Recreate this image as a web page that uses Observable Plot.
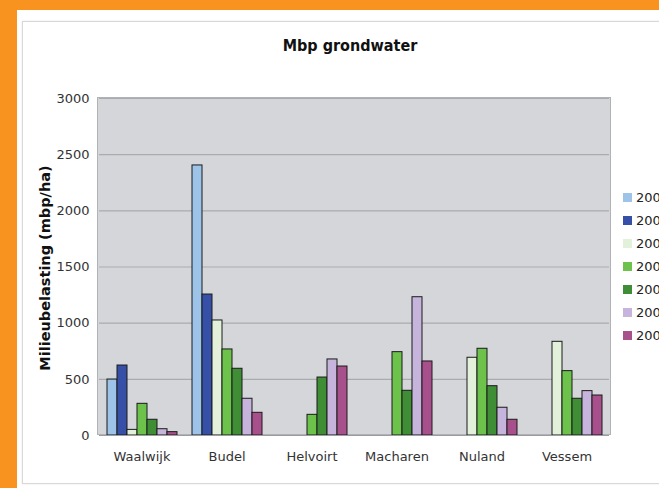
<!DOCTYPE html>
<html>
<head>
<meta charset="utf-8">
<script src="https://cdn.jsdelivr.net/npm/d3@7"></script>
<script src="https://cdn.jsdelivr.net/npm/@observablehq/plot@0.6"></script>
<style>
  html, body { margin: 0; padding: 0; }
  body { width: 659px; height: 488px; background: #F7931E; position: relative; overflow: hidden; font-family: "DejaVu Sans", sans-serif; }
  #panel { position: absolute; left: 17px; top: 10px; width: 700px; height: 490px; background: #fff; }
  #inner { position: absolute; left: 5px; top: 11px; width: 700px; height: 461px; border: 1px solid #d8d8d8; box-shadow: 0 0 2px #e6e6e6; }
  #plotbg { position: absolute; background: #D4D6D9; border: 1px solid #B0B2B5; box-sizing: border-box; }
  #chart { position: absolute; left: 0; top: 0; }
  #title { position: absolute; left: 0; width: 700px; top: 36px; text-align: center; font-family: "DejaVu Sans Condensed", "DejaVu Sans", sans-serif; font-weight: bold; font-size: 16px; color: #111; }
  #ylabel { position: absolute; left: 45px; top: 268px; transform: translate(-50%, -50%) rotate(-90deg); white-space: nowrap; font-weight: bold; font-size: 14.5px; color: #111; }
  #legend { position: absolute; left: 623px; top: 186px; }
  .item { height: 23px; display: flex; align-items: center; white-space: nowrap; font-size: 13px; color: #222; }
  .sw { width: 9px; height: 9px; margin-right: 4px; }
</style>
</head>
<body>
<div id="panel"><div id="inner"></div></div>
<div id="plotbg"></div>
<div id="chart"></div>
<div id="title">Mbp grondwater</div>
<div id="ylabel">Milieubelasting (mbp/ha)</div>
<div id="legend"></div>
<script>
const sites = ["Waalwijk", "Budel", "Helvoirt", "Macharen", "Nuland", "Vessem"];
const years = ["2000", "2001", "2002", "2003", "2004", "2005", "2006"];
const waalwijk = [498, 623, 50, 282, 140, 56, 30];
const budel = [2404, 1255, 1024, 766, 594, 327, 202];
const helvoirt = [null, null, null, 184, 516, 677, 614];
const macharen = [null, null, null, 742, 398, 1231, 659];
const nuland = [null, null, 692, 772, 439, 247, 140];
const vessem = [null, null, 834, 573, 327, 395, 356];
const yTicks = [0, 500, 1000, 1500, 2000, 2500, 3000];
const colors = ["#9DC3E8", "#3550A6", "#E3F1DA", "#6DC24C", "#3F8E36", "#C7B4DC", "#A8508C"];

const series = [waalwijk, budel, helvoirt, macharen, nuland, vessem];
const data = [];
sites.forEach((s, i) => years.forEach((yr, j) => {
  if (series[i][j] != null) data.push({site: s, year: yr, value: series[i][j]});
}));

const W = 659, H = 488, mL = 98, mR = 49, mT = 98, mB = 53;
const bg = document.getElementById("plotbg");
bg.style.left = (mL - 1) + "px";
bg.style.top = (mT - 1) + "px";
bg.style.width = (W - mL - mR + 2) + "px";
bg.style.height = (H - mT - mB + 1) + "px";

const chart = Plot.plot({
  width: W,
  height: H,
  marginLeft: mL,
  marginRight: mR,
  marginTop: mT,
  marginBottom: mB,
  style: {background: "transparent", fontFamily: "DejaVu Sans, sans-serif", fontSize: "13px", color: "#333"},
  fx: {domain: sites, padding: 0, label: null, tickSize: 0, tickPadding: 16, axis: "bottom"},
  x: {domain: years, paddingInner: 0, paddingOuter: 0.72, axis: null},
  y: {domain: [0, 3000], ticks: yTicks, tickFormat: d => String(d), tickSize: 0, tickPadding: 10, label: null},
  color: {domain: years, range: colors},
  marks: [
    Plot.ruleY(yTicks.slice(1), {stroke: "#A9ABAE", strokeWidth: 1.2}),
    Plot.barY(data, {fx: "site", x: "year", y: "value", fill: "year", stroke: "#1a1a1a", strokeWidth: 1}),
    Plot.ruleY([0], {stroke: "#9A9C9F", strokeWidth: 1.2})
  ]
});
document.getElementById("chart").appendChild(chart);

const legend = document.getElementById("legend");
years.forEach((yr, i) => {
  const it = document.createElement("div");
  it.className = "item";
  it.innerHTML = `<div class="sw" style="background:${colors[i]}"></div><span>${yr}</span>`;
  legend.appendChild(it);
});
</script>
</body>
</html>
